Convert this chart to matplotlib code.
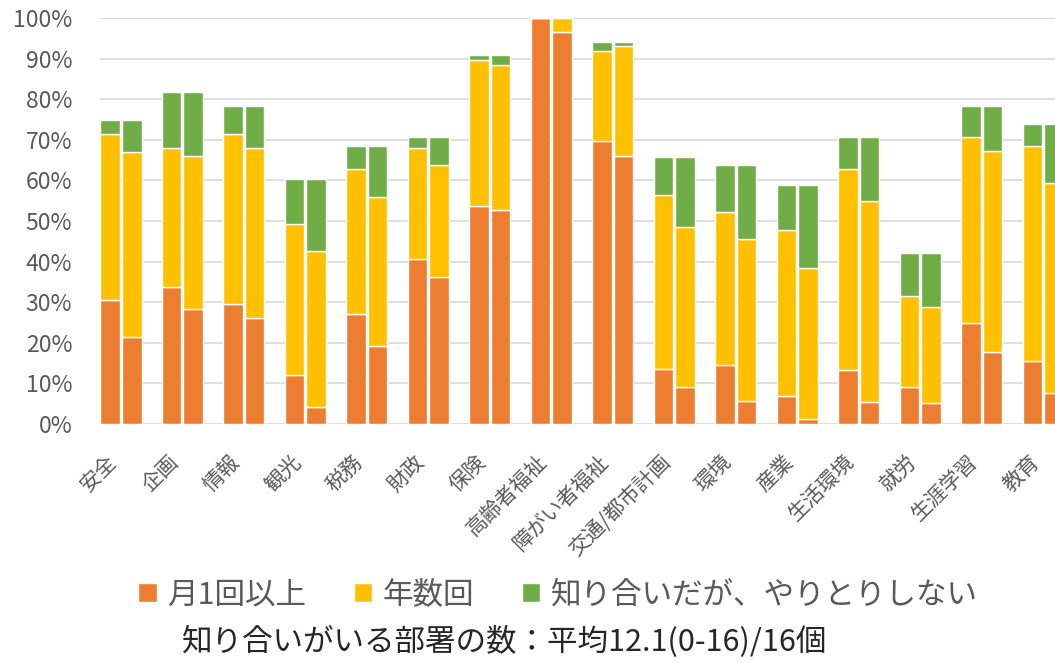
import numpy as np
import matplotlib
matplotlib.use("Agg")
import matplotlib.pyplot as plt
from matplotlib.ticker import PercentFormatter
from matplotlib.transforms import ScaledTranslation

plt.rcParams['font.family'] = ['Noto Sans CJK JP', 'DejaVu Sans']

# === Data (percent) ===
departments = ["安全", "企画", "情報", "観光", "税務", "財政", "保険", "高齢者福祉",
               "障がい者福祉", "交通/都市計画", "環境", "産業", "生活環境", "就労",
               "生涯学習", "教育"]
series_names = ["月1回以上", "年数回", "知り合いだが、やりとりしない"]

# first bar of each pair
monthly_a = [30.6, 33.8, 29.6, 12.1, 27.0, 40.6, 53.8, 100.0, 69.8, 13.6, 14.6, 6.9, 13.2, 9.0, 24.8, 15.5]
yearly_a = [40.8, 34.3, 41.8, 37.2, 35.8, 27.5, 35.8, 0.0, 22.1, 42.9, 37.5, 40.8, 49.6, 22.5, 45.9, 52.9]
known_a = [3.4, 13.6, 7.0, 11.1, 5.6, 2.5, 1.2, 0.0, 2.2, 9.3, 11.6, 11.1, 7.9, 10.6, 7.7, 5.5]

# second bar of each pair
monthly_b = [21.4, 28.3, 26.0, 4.3, 19.2, 36.2, 52.7, 96.5, 66.1, 9.0, 5.7, 1.2, 5.5, 5.1, 17.7, 7.6]
yearly_b = [45.5, 37.6, 42.1, 38.3, 36.8, 27.5, 35.8, 3.5, 26.9, 39.6, 39.8, 37.2, 49.5, 23.8, 49.5, 51.8]
known_b = [7.9, 15.8, 10.3, 17.8, 12.4, 6.9, 2.3, 0.0, 1.1, 17.2, 18.2, 20.4, 15.7, 13.2, 11.2, 14.5]

colors = ["#ED7D31", "#FFC000", "#70AD47"]
text_color = "#595959"

fig = plt.figure(figsize=(10.55, 6.63), dpi=100)
ax = fig.add_axes([100 / 1055, 239 / 663, 955 / 1055, 406 / 663])

x = np.arange(len(departments))
w = 0.32
off = 0.175

for xpos, segs in [(x - off, [monthly_a, yearly_a, known_a]),
                   (x + off, [monthly_b, yearly_b, known_b])]:
    bottom = np.zeros(len(departments))
    for vals, c, name in zip(segs, colors, series_names):
        v = np.array(vals) / 100
        ax.bar(xpos, v, w, bottom=bottom, color=c, edgecolor="white",
               linewidth=1.0, label=name if xpos[0] < 0 else None, zorder=3)
        bottom += v

ax.set_ylim(0, 1)
ax.set_xlim(-0.34, 15.19)
ax.set_yticks(np.arange(0, 1.01, 0.1))
ax.yaxis.set_major_formatter(PercentFormatter(1.0, decimals=0))
ax.grid(axis="y", color="#D9D9D9", linewidth=1.2, zorder=0)
for s in ax.spines.values():
    s.set_visible(False)
ax.tick_params(axis="both", length=0, colors=text_color)
ax.tick_params(axis="y", pad=20, labelsize=16.5)

ax.set_xticks(x)
ax.set_xticklabels(departments, rotation=45, ha="right", va="top",
                   rotation_mode="anchor", fontsize=15, color=text_color)
# nudge category labels down-left like the original
shift = ScaledTranslation(-0.15, -0.22, fig.dpi_scale_trans)
for lbl in ax.get_xticklabels():
    lbl.set_transform(lbl.get_transform() + shift)

fig.legend(loc="center", bbox_to_anchor=(558 / 1055, 1 - 595 / 663), ncol=3,
           frameon=False, fontsize=22, handlelength=0.6, handleheight=0.6,
           handletextpad=0.35, columnspacing=1.55, labelcolor=text_color)

fig.text(505 / 1055, 1 - 642 / 663, "知り合いがいる部署の数：平均12.1(0-16)/16個",
         ha="center", va="center", fontsize=22, color="#262626")

fig.savefig("out.png", dpi=100)
